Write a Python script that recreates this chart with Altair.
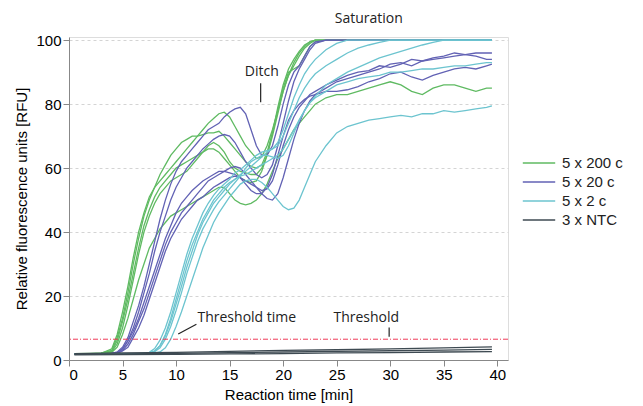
import altair as alt
import pandas as pd

# ---------------- data ----------------
time_min = [0.5, 2, 3, 4, 4.5, 5, 5.5, 6, 6.5, 7, 7.5, 8, 8.5, 9, 9.5, 10, 10.5, 11, 11.5, 12,
            12.5, 13, 13.5, 14, 14.5, 15, 15.5, 16, 16.5, 17, 17.5, 18, 18.5, 19, 19.5, 20,
            20.5, 21, 21.5, 22, 22.5, 23, 24, 25, 26, 27, 28, 29, 30, 31, 32, 33, 34, 35, 36,
            37, 38, 39, 39.5]

HUNDRED17 = [100] * 17

g200_1 = [1.9, 2.0, 2.1, 3.5, 8, 15, 23, 32, 40, 46, 51, 54, 56, 58, 60, 62, 64, 66, 68, 70,
          72, 74, 75.5, 77, 77.5, 76, 73, 70, 67, 65, 63, 63.5, 67, 72, 78, 84, 89, 93, 96, 98,
          99.5, 100] + HUNDRED17
g200_2 = [2.0, 2.0, 2.1, 3, 7, 13, 21, 30, 38, 45, 50, 54, 58, 61, 64, 66, 68, 69, 70, 70,
          70.5, 71, 71, 71.5, 70, 68, 66, 64, 62, 60.5, 60, 61, 65, 71, 78, 85, 90, 91, 92, 95,
          98, 99.5] + HUNDRED17
g200_3 = [1.8, 1.9, 2.0, 2.6, 5, 10, 17, 25, 33, 40, 45, 49, 52, 54, 56, 57, 58, 59, 61, 63,
          65, 67, 68, 67, 65, 62, 60, 59, 58.5, 58, 58, 60, 64, 70, 77, 84, 89, 92, 95, 97.5,
          99, 100] + HUNDRED17
g200_4 = [2.0, 2.0, 2.1, 2.4, 4, 8, 13, 19, 25, 30, 35, 38, 41, 43, 45, 46, 47, 48, 49, 50,
          51, 52, 53, 54, 54, 52, 50, 49, 48.5, 49, 50, 52, 55, 59, 63, 66, 69, 72, 74, 76,
          78, 80, 82, 83, 83, 84, 85, 86, 87, 86, 84, 83, 85, 86, 86, 85, 84, 85, 85]
g200_5 = [2.0, 2.1, 2.2, 2.8, 6, 12, 19, 27, 35, 42, 47, 51, 54, 56, 58, 60, 61, 62, 63, 64,
          65, 66, 66, 65, 63, 61, 59, 57, 56, 55.5, 56, 59, 64, 71, 79, 86, 91, 94, 96.5, 98.5,
          99.5, 100] + HUNDRED17

g20_1 = [2.0, 2.0, 2.0, 2.1, 2.5, 4, 7, 12, 17, 23, 30, 37, 44, 50, 55, 59, 62, 64, 66, 68,
         70, 72, 73, 74, 76, 77.5, 78.5, 79, 77, 72, 67, 64, 64, 67, 73, 80, 86, 90, 92, 95,
         98, 99.5] + HUNDRED17
g20_2 = [1.9, 2.0, 2.0, 2.1, 2.3, 3.5, 6, 10, 15, 21, 27, 34, 40, 45, 50, 54, 57, 60, 62, 64,
         66, 67.5, 69, 70, 70.5, 70, 68, 65, 62, 60, 58, 57, 58, 61, 67, 74, 81, 87, 91, 94,
         97, 99] + HUNDRED17
g20_3 = [2.0, 2.0, 2.0, 2.1, 2.2, 3, 5, 8, 12, 16, 21, 26, 31, 36, 40, 43, 46, 48, 50, 52,
         54, 56, 57, 58, 59, 60, 60.5, 60, 58, 56, 54, 52, 50.5, 50, 52, 57, 63, 69, 74, 78,
         81, 83, 85, 87, 88, 89, 90, 91, 92.5, 93, 92, 93.5, 94, 94.5, 95, 95.5, 96, 96, 96]
g20_4 = [2.0, 2.0, 2.0, 2.1, 2.3, 3.5, 6, 9, 13, 18, 23, 28, 33, 38, 42, 46, 49, 51, 53, 54.5,
         56, 57, 58, 59, 59, 58.5, 58, 57, 56, 55, 54, 53, 53.5, 56, 61, 67, 72, 76, 79, 81,
         83, 84, 86, 87.5, 89, 90, 90.5, 92, 91.5, 92.5, 94, 93.5, 94.5, 95, 96, 95.5, 95, 94, 94]
g20_5 = [1.9, 2.0, 2.0, 2.0, 2.1, 2.8, 4, 7, 10, 14, 19, 24, 29, 34, 38, 41, 44, 46, 48, 50,
         51, 52.5, 54, 55, 56, 57, 57.5, 57, 55, 53, 52, 52, 54, 58, 64, 70, 75, 78, 80, 81.5,
         82.5, 83, 84, 84, 84.5, 85.5, 87, 88, 89.5, 90, 88.5, 87.5, 89, 90, 91, 91.5, 91, 92, 92.5]

g2_1 = [2.0, 2.0, 2.0, 2.0, 2.0, 2.0, 2.0, 2.0, 2.0, 2.1, 2.2, 2.8, 4.5, 8, 13, 19, 25, 31, 36,
        40, 44, 47, 50, 52, 54, 55.5, 56.5, 57.5, 58, 59, 60, 61, 62, 63, 64, 66, 69, 72, 75,
        78, 80.5, 82.5, 86, 88, 90, 91.5, 93, 94.5, 95.5, 96.5, 97.5, 98.5, 99.3, 100, 100,
        100, 100, 100, 100]
g2_2 = [1.9, 1.9, 2.0, 2.0, 2.0, 2.0, 2.0, 2.0, 2.0, 2.1, 2.2, 2.6, 3.8, 6.5, 10.5, 15.5, 21,
        27, 32, 37, 41, 44, 47, 49.5, 51.5, 53.5, 55.5, 57.5, 60, 62, 63, 64, 64, 63.5, 63, 64,
        67, 71, 75, 78, 80.5, 82, 84, 86, 87, 88, 88.5, 89, 90, 90, 90.5, 91, 91, 91.5, 92,
        92, 92.5, 93, 93]
g2_3 = [1.8, 1.9, 1.9, 2.0, 2.0, 2.0, 2.0, 2.0, 2.0, 2.0, 2.1, 2.2, 2.5, 3.8, 6.5, 10.5, 15,
        20, 25, 30, 35, 39, 43, 46, 48.5, 51, 53, 55, 56, 56.5, 56.5, 55.5, 54, 52, 50, 48,
        47, 47.5, 50, 54, 58, 62, 67, 71, 73, 74, 75, 75.5, 76, 76.5, 76, 77, 77, 78, 77.5,
        78, 78.5, 79, 79.5]
g2_4 = [2.0, 2.0, 2.0, 2.0, 2.0, 2.0, 2.0, 2.0, 2.0, 2.1, 2.2, 2.8, 4.5, 7.5, 12, 17.5, 23,
        29, 34, 39, 43, 46, 49, 51, 53, 55, 56.5, 58, 59, 60.5, 62, 63.5, 65, 66, 67, 70, 74,
        78, 82, 85, 87.5, 89.5, 92, 94, 96, 97.5, 98.5, 99.3] + [100] * 11
g2_5 = [1.9, 2.0, 2.0, 2.0, 2.0, 2.0, 2.0, 2.0, 2.0, 2.1, 2.4, 3.6, 6.2, 10, 15, 21, 27, 33,
        38, 42, 46, 49, 51.5, 53.5, 55, 56.5, 58.5, 59.5, 61, 62.5, 64, 65, 65.5, 66, 68, 72,
        77, 82, 86, 89.5, 92, 94, 97, 99] + [100] * 15

ntc_time = [0.5, 5, 10, 15, 20, 25, 30, 35, 39.5]
ntc_1 = [2.0, 2.2, 2.4, 2.7, 3.0, 3.2, 3.5, 3.8, 4.1]
ntc_2 = [1.8, 1.9, 2.1, 2.3, 2.5, 2.7, 2.9, 3.1, 3.3]
ntc_3 = [1.6, 1.7, 1.8, 1.9, 2.0, 2.2, 2.3, 2.5, 2.6]

group_labels = ["5 x 200 c", "5 x 20 c", "5 x 2 c", "3 x NTC"]
group_colors = ["#5fba62", "#6262b4", "#6cc4cf", "#3e4a52"]

threshold_rfu = [6.5]

ann_text = ["Saturation", "Ditch", "Threshold time", "Threshold"]
ann_t = [28.0, 18.0, 12.0, 24.7]
ann_v = [106.5, 90.0, 13.0, 13.0]
ann_align = ["center", "center", "left", "left"]

lead_t = [17.9, 10.2, 29.9]
lead_v = [86.5, 8.1, 10.2]
lead_t2 = [17.9, 11.9, 29.9]
lead_v2 = [80.6, 11.2, 7.3]

# ---------------- tables ----------------
rows = []
curve_sets = [
    (group_labels[0], [g200_1, g200_2, g200_3, g200_4, g200_5], time_min),
    (group_labels[1], [g20_1, g20_2, g20_3, g20_4, g20_5], time_min),
    (group_labels[2], [g2_1, g2_2, g2_3, g2_4, g2_5], time_min),
    (group_labels[3], [ntc_1, ntc_2, ntc_3], ntc_time),
]
for gi, (lab, curves, tt) in enumerate(curve_sets):
    for ci, vals in enumerate(curves):
        for t, v in zip(tt, vals):
            rows.append({"t": t, "v": v, "group": lab, "series": f"{lab}-{ci}"})
df = pd.DataFrame(rows)

ann_df = pd.DataFrame({"text": ann_text, "t": ann_t, "v": ann_v, "align": ann_align})
lead_df = pd.DataFrame({"t": lead_t, "v": lead_v, "t2": lead_t2, "v2": lead_v2})
thr_df = pd.DataFrame({"v": threshold_rfu})

W, H = 439, 323
xscale = alt.Scale(domain=[0, 41], nice=False, zero=False)
yscale = alt.Scale(domain=[0, 101], nice=False)

x_vals = [i * 2.5 for i in range(17)]
y_vals = list(range(0, 101, 10))

x_axis = alt.Axis(
    title="Reaction time [min]", values=x_vals, grid=False,
    labelExpr="datum.value % 5 == 0 ? datum.label : ''",
    tickSize={"condition": {"test": "datum.value % 5 != 0", "value": 3}, "value": 6},
    labelFontSize=15, titleFontSize=15, titlePadding=5, labelPadding=1,
    titleFontWeight="normal",
)
y_axis = alt.Axis(
    title="Relative fluorescence units [RFU]", values=y_vals,
    labelExpr="datum.value % 20 == 0 ? datum.label : ''",
    tickSize={"condition": {"test": "datum.value % 20 != 0", "value": 3}, "value": 6},
    gridOpacity={"condition": {"test": "datum.value % 20 != 0 || datum.value == 0", "value": 0}, "value": 1},
    gridColor="#d4d4d4", gridDash=[3, 3], gridWidth=1,
    labelFontSize=15, titleFontSize=15, titlePadding=6, labelPadding=2,
    titleFontWeight="normal",
)

lines = alt.Chart(df).mark_line(strokeWidth=1.3).encode(
    x=alt.X("t:Q", scale=xscale, axis=x_axis),
    y=alt.Y("v:Q", scale=yscale, axis=y_axis),
    color=alt.Color("group:N", scale=alt.Scale(domain=group_labels, range=group_colors),
                    legend=alt.Legend(title=None, orient="none", legendX=460, legendY=116,
                                      symbolType="M-1.8,0H1.8", symbolSize=324,
                                      symbolStrokeWidth=1.5, labelFontSize=15,
                                      labelFont="Liberation Sans", labelColor="#222222",
                                      rowPadding=1, labelOffset=13, padding=0)),
    detail="series:N",
    order=alt.Order("t:Q"),
)

thr = alt.Chart(thr_df).mark_rule(color="#ee3a58", strokeDash=[5, 2, 1, 2], strokeWidth=1).encode(
    y=alt.Y("v:Q", scale=yscale)
)

leads = alt.Chart(lead_df).mark_rule(color="#222222", strokeWidth=1.2).encode(
    x=alt.X("t:Q", scale=xscale), y=alt.Y("v:Q", scale=yscale),
    x2="t2:Q", y2="v2:Q",
)

ann_left = alt.Chart(ann_df[ann_df["align"] == "left"]).mark_text(
    align="left", baseline="middle", font="Open Sans", fontSize=14, color="#222222"
).encode(x=alt.X("t:Q", scale=xscale), y=alt.Y("v:Q", scale=yscale), text="text:N")
ann_center = alt.Chart(ann_df[ann_df["align"] == "center"]).mark_text(
    align="center", baseline="middle", font="Open Sans", fontSize=14, color="#222222"
).encode(x=alt.X("t:Q", scale=xscale), y=alt.Y("v:Q", scale=yscale), text="text:N")

chart = alt.layer(lines, thr, leads, ann_left, ann_center).properties(
    width=W, height=H,
    autosize=alt.AutoSizeParams(type="none"),
    padding={"left": 69, "top": 37, "right": 643 - 69 - W, "bottom": 406 - 37 - H},
).configure_view(stroke=None).configure_axis(
    domainColor="#111111", tickColor="#111111", labelColor="#222222", titleColor="#222222",
    labelFont="Liberation Sans", titleFont="Liberation Sans", titleFontWeight="normal",
    domainWidth=1.2, tickWidth=1.2,
).configure(background="white")

chart.save("out.html", embed_options={"renderer": "svg", "actions": False})
